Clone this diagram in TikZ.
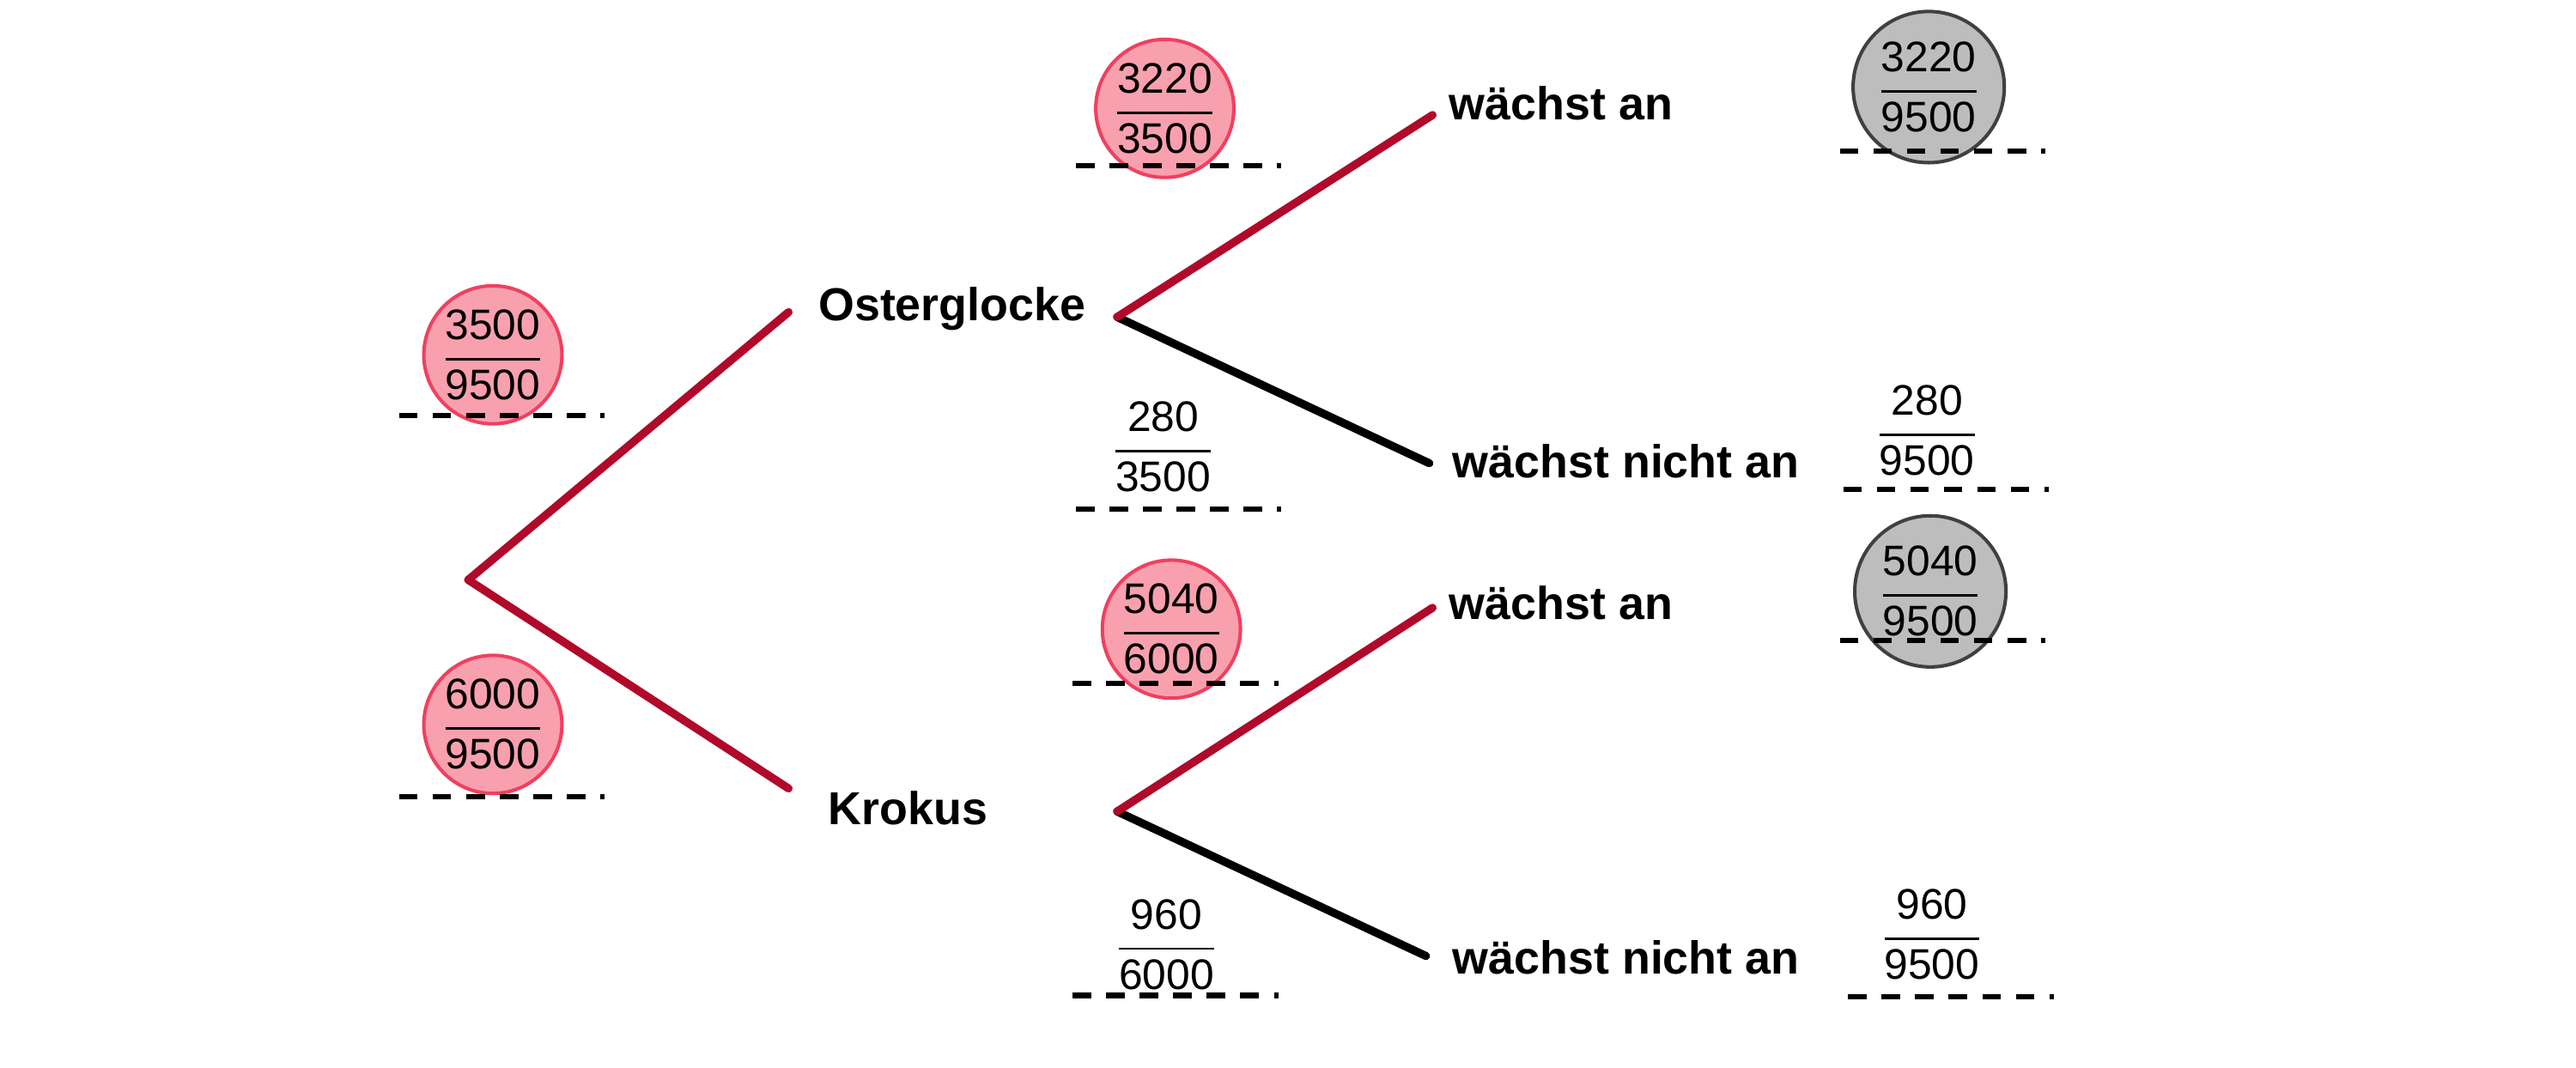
\documentclass[tikz,border=0pt]{standalone}
\usepackage{fontspec}
\setmainfont{Liberation Sans}
\usetikzlibrary{positioning,calc}
\definecolor{astrot}{HTML}{B0092A}
\definecolor{kreisrot}{HTML}{F9A0AE}
\definecolor{randrot}{HTML}{F0405F}
\definecolor{kreisgrau}{HTML}{BDBDBD}
\newcommand{\bruch}[2]{$\displaystyle\frac{\mbox{#1}}{\mbox{#2}}$}
\tikzset{
  ereignis/.style={font=\fontsize{8}{9}\selectfont\bfseries, inner sep=1pt},
  wkeit/.style={font=\fontsize{7.4}{9}\selectfont, inner sep=0pt},
  rotkreis/.style={circle, draw=randrot, fill=kreisrot, line width=0.6pt, minimum size=0.84cm},
  graukreis/.style={circle, draw=black!75, fill=kreisgrau, line width=0.6pt, minimum size=0.92cm},
  strich/.style={dashed, dash pattern=on 3.2pt off 2.6pt, line width=0.9pt},
  rotast/.style={astrot, line width=1.4pt, line cap=round},
  ast/.style={black, line width=1.4pt, line cap=round}
}
\begin{document}
\begin{tikzpicture}[x=0.01cm,y=-0.01cm]
    \useasboundingbox (0,0) rectangle (1568,650);
    % Stufe 1
    \coordinate (wurzel) at (285,353);
    \coordinate (o1) at (480,190);
    \coordinate (k1) at (480,480);
    \node[ereignis, anchor=west] (oster) at (494,188) {Osterglocke};
    \node[ereignis, anchor=west] (krokus) at (500,492) {Krokus};
    \draw[rotast] (wurzel) -- (o1);
    \draw[rotast] (wurzel) -- (k1);
    \node[rotkreis] (p1) at (300,216) {};
    \node[wkeit] at (p1) {\bruch{3500}{9500}};
    \draw[strich] (243,253) -- (368,253);
    \node[rotkreis] (p2) at (300,441) {};
    \node[wkeit] at (p2) {\bruch{6000}{9500}};
    \draw[strich] (243,485) -- (368,485);
    % Stufe 2
    \coordinate (o2) at (680,193);
    \coordinate (k2) at (680,494);
    \node[ereignis, anchor=west] (oa) at (878,63) {wächst an};
    \node[ereignis, anchor=west] (on) at (880,281) {wächst nicht an};
    \node[ereignis, anchor=west] (ka) at (878,367) {wächst an};
    \node[ereignis, anchor=west] (kn) at (880,583) {wächst nicht an};
    \draw[ast] (o2) -- (870,282);
    \draw[rotast] (o2) -- (872,70);
    \draw[ast] (k2) -- (868,582);
    \draw[rotast] (k2) -- (872,370);
    \node[rotkreis] (p3) at (709,66) {};
    \node[wkeit] at (p3) {\bruch{3220}{3500}};
    \draw[strich] (655,101) -- (780,101);
    \node[wkeit] (p4) at (708,272) {\bruch{280}{3500}};
    \draw[strich] (655,310) -- (780,310);
    \node[rotkreis] (p5) at (713,383) {};
    \node[wkeit] at (p5) {\bruch{5040}{6000}};
    \draw[strich] (653,416) -- (778,416);
    \node[wkeit] (p6) at (710,575) {\bruch{960}{6000}};
    \draw[strich] (653,606) -- (778,606);
    % Pfadwahrscheinlichkeiten
    \node[graukreis] (g1) at (1174,53) {};
    \node[wkeit] at (g1) {\bruch{3220}{9500}};
    \draw[strich] (1120,92) -- (1245,92);
    \node[wkeit] (g2) at (1173,262) {\bruch{280}{9500}};
    \draw[strich] (1122,298) -- (1247,298);
    \node[graukreis] (g3) at (1175,360) {};
    \node[wkeit] at (g3) {\bruch{5040}{9500}};
    \draw[strich] (1120,390) -- (1245,390);
    \node[wkeit] (g4) at (1176,569) {\bruch{960}{9500}};
    \draw[strich] (1125,607) -- (1250,607);
\end{tikzpicture}
\end{document}
